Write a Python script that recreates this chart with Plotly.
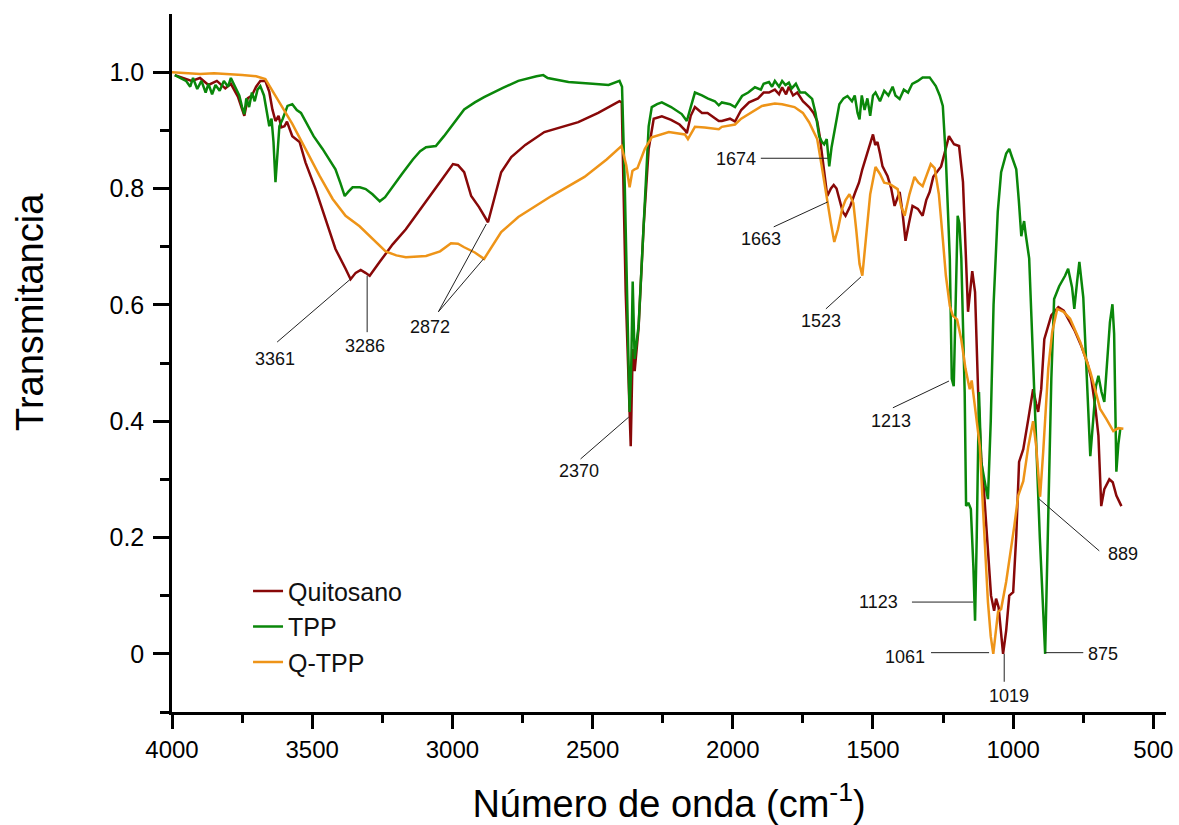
import plotly.graph_objects as go

# ---------------- data (wavenumber cm-1, transmittance) ----------------
quitosano_x = [3990, 3960, 3930, 3900, 3870, 3840, 3810, 3790, 3765, 3742, 3730, 3715, 3700, 3685, 3667,
               3653, 3642, 3631, 3620, 3610, 3599, 3590, 3571, 3545, 3524, 3488, 3452, 3417, 3381, 3363,
               3345, 3327, 3310, 3295, 3259, 3213, 3166, 3094, 3044, 2998, 2980, 2958, 2933, 2905, 2873,
               2851, 2826, 2790, 2740, 2672, 2551, 2480, 2404, 2396, 2382, 2364, 2357, 2350, 2336, 2318,
               2300, 2282, 2253, 2220, 2190, 2170, 2164, 2150, 2135, 2110, 2090, 2050, 2039, 2010, 1992,
               1970, 1942, 1910, 1890, 1871, 1850, 1835, 1824, 1810, 1800, 1785, 1770, 1750, 1728, 1712,
               1699, 1690, 1681, 1672, 1663, 1650, 1640, 1630, 1620, 1608, 1598, 1581, 1563, 1550, 1538,
               1525, 1513, 1505, 1500, 1492, 1484, 1475, 1466, 1448, 1435, 1423, 1415, 1405, 1395, 1384,
               1372, 1359, 1340, 1323, 1310, 1298, 1285, 1270, 1257, 1245, 1229, 1211, 1193, 1179, 1171,
               1161, 1146, 1136, 1125, 1114, 1104, 1090, 1079, 1068, 1061, 1052, 1036, 1025, 1014, 1000,
               989, 979, 964, 946, 929, 918, 911, 900, 889, 864, 839, 820, 804, 780, 757,
               735, 721, 706, 696, 686, 675, 657, 645, 632, 614]
quitosano_y = [0.995, 0.99, 0.985, 0.99, 0.978, 0.985, 0.972, 0.98, 0.958, 0.925, 0.955, 0.96, 0.975, 0.985, 0.985,
               0.966, 0.936, 0.916, 0.925, 0.905, 0.907, 0.915, 0.89, 0.88, 0.845, 0.799, 0.747, 0.696, 0.662, 0.644,
               0.655, 0.66, 0.655, 0.65, 0.674, 0.704, 0.73, 0.777, 0.811, 0.842, 0.84, 0.828, 0.787, 0.768, 0.742,
               0.782, 0.828, 0.854, 0.875, 0.897, 0.914, 0.93, 0.95, 0.948, 0.622, 0.357, 0.524, 0.486, 0.56, 0.735,
               0.868, 0.92, 0.924, 0.918, 0.91, 0.9, 0.895, 0.925, 0.94, 0.93, 0.93, 0.916, 0.916, 0.92, 0.915,
               0.935, 0.948, 0.955, 0.965, 0.965, 0.97, 0.962, 0.974, 0.962, 0.975, 0.96, 0.965, 0.95, 0.94, 0.93,
               0.916, 0.89, 0.856, 0.82, 0.787, 0.8, 0.806, 0.8, 0.78, 0.76, 0.753, 0.77, 0.794, 0.81, 0.833,
               0.855, 0.873, 0.885, 0.893, 0.875, 0.88, 0.86, 0.838, 0.821, 0.8, 0.77, 0.78, 0.794, 0.76, 0.71,
               0.74, 0.77, 0.765, 0.753, 0.78, 0.794, 0.82, 0.83, 0.838, 0.86, 0.89, 0.876, 0.873, 0.811, 0.696,
               0.588, 0.658, 0.622, 0.45, 0.335, 0.278, 0.175, 0.1, 0.074, 0.095, 0.08, 0.0, 0.04, 0.1, 0.106,
               0.203, 0.33, 0.352, 0.404, 0.455, 0.43, 0.416, 0.455, 0.541, 0.582, 0.596, 0.59, 0.576, 0.555, 0.529,
               0.5, 0.472, 0.42, 0.375, 0.254, 0.283, 0.30, 0.295, 0.272, 0.254]

tpp_x = [3990, 3970, 3950, 3935, 3925, 3910, 3895, 3880, 3870, 3857, 3845, 3830, 3815, 3800, 3790,
         3775, 3760, 3750, 3742, 3735, 3725, 3715, 3705, 3695, 3685, 3672, 3660, 3653, 3645, 3638,
         3631, 3624, 3617, 3605, 3588, 3571, 3555, 3540, 3524, 3495, 3463, 3440, 3417, 3400, 3384,
         3370, 3356, 3330, 3309, 3285, 3259, 3240, 3213, 3180, 3141, 3115, 3094, 3059, 3030, 2994,
         2958, 2920, 2887, 2820, 2765, 2700, 2676, 2660, 2586, 2500, 2443, 2404, 2395, 2385, 2375,
         2368, 2362, 2357, 2350, 2336, 2318, 2300, 2289, 2270, 2253, 2220, 2182, 2164, 2150, 2135,
         2110, 2090, 2064, 2050, 2039, 2010, 1992, 1967, 1945, 1921, 1900, 1890, 1871, 1860, 1850,
         1835, 1824, 1812, 1800, 1790, 1775, 1760, 1742, 1730, 1717, 1705, 1692, 1682, 1674, 1665,
         1656, 1648, 1638, 1620, 1605, 1591, 1575, 1565, 1555, 1548, 1540, 1530, 1520, 1510, 1500,
         1491, 1475, 1460, 1445, 1430, 1420, 1405, 1390, 1375, 1360, 1340, 1323, 1298, 1276, 1262,
         1251, 1240, 1226, 1219, 1212, 1205, 1198, 1192, 1185, 1173, 1168, 1160, 1151, 1142, 1136,
         1130, 1122, 1114, 1104, 1090, 1080, 1070, 1055, 1043, 1025, 1014, 1005, 995, 989, 980,
         971, 965, 961, 955, 943, 935, 925, 905, 886, 876, 864, 854, 836, 815, 804,
         790, 782, 772, 764, 750, 740, 732, 725, 715, 705, 696, 685, 675, 665, 655,
         646, 640, 632, 625, 618]
tpp_y = [0.995, 0.99, 0.985, 0.975, 0.99, 0.971, 0.985, 0.965, 0.98, 0.962, 0.978, 0.968, 0.985, 0.975, 0.99,
         0.975, 0.96, 0.94, 0.928, 0.955, 0.94, 0.965, 0.95, 0.97, 0.976, 0.96, 0.93, 0.907, 0.92, 0.88,
         0.811, 0.86, 0.907, 0.92, 0.942, 0.945, 0.935, 0.93, 0.916, 0.89, 0.868, 0.85, 0.833, 0.81, 0.787,
         0.795, 0.802, 0.802, 0.799, 0.79, 0.778, 0.785, 0.804, 0.825, 0.85, 0.864, 0.871, 0.873, 0.89, 0.914,
         0.936, 0.948, 0.957, 0.973, 0.985, 0.993, 0.995, 0.99, 0.983, 0.98, 0.978, 0.985, 0.975, 0.8, 0.6,
         0.416, 0.5, 0.64, 0.507, 0.564, 0.735, 0.907, 0.94, 0.945, 0.948, 0.94, 0.928, 0.916, 0.94, 0.965,
         0.96, 0.955, 0.95, 0.943, 0.948, 0.945, 0.94, 0.959, 0.965, 0.974, 0.97, 0.98, 0.983, 0.975, 0.985,
         0.975, 0.985, 0.978, 0.982, 0.972, 0.98, 0.965, 0.965, 0.96, 0.954, 0.93, 0.89, 0.88, 0.876, 0.885,
         0.838, 0.87, 0.897, 0.945, 0.955, 0.959, 0.95, 0.96, 0.93, 0.919, 0.96, 0.935, 0.955, 0.925, 0.96,
         0.965, 0.95, 0.968, 0.96, 0.975, 0.96, 0.954, 0.97, 0.965, 0.98, 0.985, 0.991, 0.991, 0.976, 0.96,
         0.942, 0.851, 0.679, 0.473, 0.46, 0.6, 0.753, 0.74, 0.68, 0.45, 0.254, 0.26, 0.249, 0.15, 0.057,
         0.2, 0.45, 0.33, 0.3, 0.266, 0.40, 0.6, 0.76, 0.828, 0.86, 0.868, 0.855, 0.84, 0.833, 0.78,
         0.718, 0.735, 0.744, 0.72, 0.68, 0.58, 0.45, 0.2, 0.0, 0.2, 0.472, 0.61, 0.632, 0.65, 0.662,
         0.63, 0.593, 0.64, 0.674, 0.613, 0.5, 0.42, 0.34, 0.4, 0.46, 0.478, 0.45, 0.433, 0.5, 0.57,
         0.601, 0.55, 0.313, 0.36, 0.387]

qtpp_x = [4000, 3950, 3900, 3850, 3800, 3750, 3700, 3667, 3617, 3571, 3524, 3474, 3427, 3381, 3331,
          3284, 3238, 3200, 3166, 3094, 3044, 3005, 2980, 2958, 2920, 2887, 2860, 2826, 2765, 2647,
          2529, 2450, 2397, 2380, 2368, 2358, 2350, 2340, 2314, 2289, 2228, 2171, 2160, 2135, 2100,
          2050, 2039, 1992, 1970, 1942, 1896, 1850, 1824, 1780, 1750, 1728, 1699, 1681, 1663, 1650,
          1638, 1625, 1610, 1598, 1584, 1570, 1560, 1548, 1538, 1525, 1510, 1491, 1475, 1460, 1441,
          1412, 1400, 1387, 1370, 1352, 1338, 1323, 1310, 1294, 1280, 1265, 1251, 1240, 1226, 1215,
          1200, 1185, 1170, 1162, 1155, 1148, 1135, 1119, 1107, 1090, 1080, 1071, 1054, 1043, 1025,
          1014, 996, 982, 964, 946, 929, 918, 904, 893, 875, 861, 843, 820, 797, 761,
          725, 700, 690, 668, 643, 625, 607]
qtpp_y = [1.0, 0.998, 0.997, 0.998, 0.997, 0.995, 0.993, 0.988, 0.948, 0.911, 0.868, 0.822, 0.782, 0.753, 0.735,
          0.713, 0.692, 0.685, 0.682, 0.684, 0.692, 0.706, 0.705, 0.699, 0.69, 0.679, 0.7, 0.725, 0.751, 0.787,
          0.82, 0.85, 0.873, 0.84, 0.802, 0.83, 0.833, 0.835, 0.868, 0.888, 0.897, 0.893, 0.885, 0.906, 0.905,
          0.902, 0.906, 0.91, 0.92, 0.928, 0.942, 0.946, 0.945, 0.94, 0.93, 0.914, 0.885, 0.833, 0.777, 0.74,
          0.708, 0.73, 0.765, 0.78, 0.79, 0.775, 0.73, 0.67, 0.65, 0.72, 0.79, 0.837, 0.825, 0.81, 0.808,
          0.799, 0.77, 0.753, 0.79, 0.82, 0.81, 0.804, 0.82, 0.842, 0.835, 0.79, 0.713, 0.65, 0.598, 0.581,
          0.575, 0.54, 0.49, 0.473, 0.455, 0.47, 0.42, 0.357, 0.244, 0.089, 0.03, 0.0, 0.072, 0.077, 0.124,
          0.158, 0.22, 0.272, 0.297, 0.357, 0.40, 0.357, 0.27, 0.347, 0.49, 0.553, 0.593, 0.588, 0.576, 0.536,
          0.485, 0.44, 0.421, 0.404, 0.383, 0.388, 0.387]

series_names = ["Quitosano", "TPP", "Q-TPP"]
series_colors = ["#880808", "#0A870A", "#EE9418"]

x_tickvals = [4000, 3500, 3000, 2500, 2000, 1500, 1000, 500]
x_minor = [3750, 3250, 2750, 2250, 1750, 1250, 750]
y_tickvals = [0, 0.2, 0.4, 0.6, 0.8, 1.0]
y_ticktext = ["0", "0.2", "0.4", "0.6", "0.8", "1.0"]
y_minor = [-0.1, 0.1, 0.3, 0.5, 0.7, 0.9]

# peak labels: (text, label x, label y)
peak_labels = [("3361", 3632, 0.507), ("3286", 3311, 0.529), ("2872", 3079, 0.562),
               ("2370", 2550, 0.314), ("1674", 1989, 0.851), ("1663", 1900, 0.713),
               ("1523", 1686, 0.572), ("1213", 1436, 0.400), ("1123", 1479, 0.089),
               ("1061", 1386, -0.005), ("1019", 1014, -0.072), ("875", 679, 0.0),
               ("889", 607, 0.172)]
# leader lines: (x0, y0, x1, y1)
leader_lines = [(3625, 0.536, 3364, 0.644), (3304, 0.553, 3304, 0.65),
                (3050, 0.588, 2879, 0.739), (3050, 0.588, 2889, 0.679),
                (2543, 0.335, 2371, 0.407), (1900, 0.852, 1661, 0.852),
                (1854, 0.734, 1661, 0.777), (1668, 0.593, 1543, 0.648),
                (1429, 0.423, 1229, 0.469), (1361, 0.089, 1143, 0.089),
                (1293, 0.002, 1086, 0.002), (1032, 0.0, 1032, -0.048),
                (886, 0.002, 750, 0.002), (907, 0.266, 693, 0.177)]

# ---------------- figure ----------------
FONT = "Liberation Sans, Arial, sans-serif"
fig = go.Figure()
for name, xs, ys, col in zip(series_names,
                             [quitosano_x, tpp_x, qtpp_x],
                             [quitosano_y, tpp_y, qtpp_y],
                             series_colors):
    fig.add_trace(go.Scatter(x=xs, y=ys, mode="lines", name=name,
                             line=dict(color=col, width=2.5)))

for (x0, y0, x1, y1) in leader_lines:
    fig.add_shape(type="line", xref="x", yref="y", x0=x0, y0=y0, x1=x1, y1=y1,
                  line=dict(color="#222222", width=1))

for (txt, lx, ly) in peak_labels:
    fig.add_annotation(x=lx, y=ly, xref="x", yref="y", text=txt, showarrow=False,
                       font=dict(family=FONT, size=18, color="#111111"))

# y-axis title (sits above the vertical centre, as in the original)
fig.add_annotation(x=-0.143, y=0.573, xref="paper", yref="paper", text="Transmitancia",
                   textangle=-90, showarrow=False, xanchor="center", yanchor="middle",
                   font=dict(family=FONT, size=38, color="black"))

fig.update_layout(
    width=1179, height=825,
    margin=dict(l=172, r=13, t=14, b=113, autoexpand=False),
    paper_bgcolor="white", plot_bgcolor="white",
    font=dict(family=FONT, color="black"),
    showlegend=True,
    legend=dict(x=0.0765, y=0.206, xanchor="left", yanchor="top",
                bgcolor="rgba(0,0,0,0)", font=dict(family=FONT, size=25, color="#111111"),
                tracegroupgap=0),
)
fig.update_xaxes(
    range=[4000, 455], showline=True, linecolor="black", linewidth=2.5,
    showgrid=False, zeroline=False, mirror=False, automargin=False,
    tickmode="array", tickvals=x_tickvals, ticks="outside", ticklen=14, tickwidth=2.5,
    tickcolor="black", tickfont=dict(family=FONT, size=24, color="black"),
    minor=dict(tickmode="array", tickvals=x_minor, ticks="outside", ticklen=8,
               tickwidth=2.5, tickcolor="black"),
    title=dict(text="Número de onda (cm<sup>-1</sup>)", standoff=30,
               font=dict(family=FONT, size=38, color="black")),
)
fig.update_yaxes(
    range=[-0.1, 1.1], showline=True, linecolor="black", linewidth=2.5,
    showgrid=False, zeroline=False, mirror=False, automargin=False,
    tickmode="array", tickvals=y_tickvals, ticktext=y_ticktext, ticks="outside",
    ticklen=16, tickwidth=2.5, tickcolor="black", ticklabelstandoff=4,
    tickfont=dict(family=FONT, size=25, color="black"),
    minor=dict(tickmode="array", tickvals=y_minor, ticks="outside", ticklen=9,
               tickwidth=2.5, tickcolor="black"),
)

fig.write_html("out.html", config={"displayModeBar": False},
               post_script="document.body.style.margin='0px';")
